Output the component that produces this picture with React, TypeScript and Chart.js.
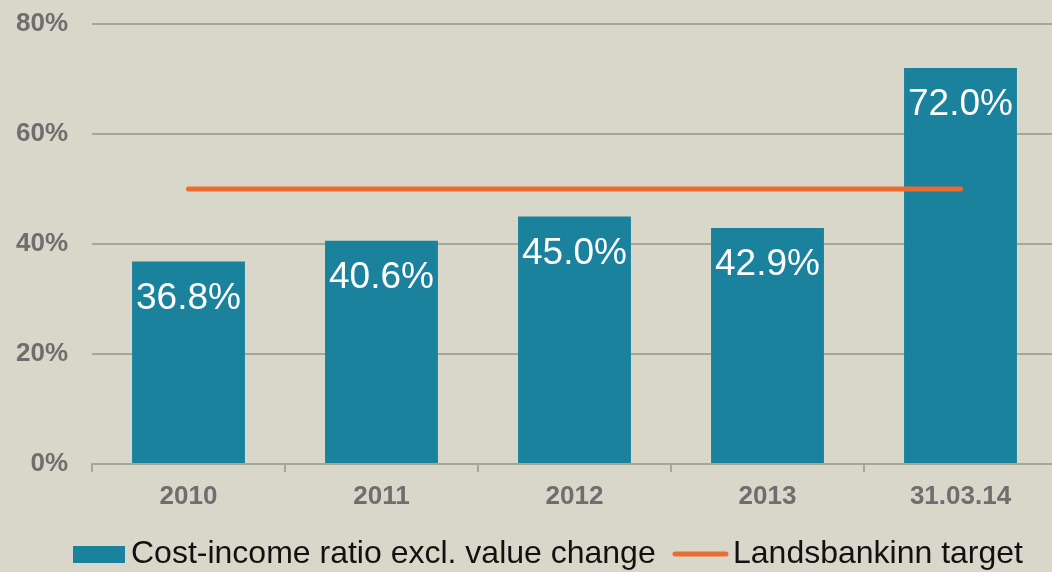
import React, { useEffect, useRef } from "react";
import { Chart, registerables } from "chart.js";

Chart.register(...registerables);

const categories = ["2010", "2011", "2012", "2013", "31.03.14"];
const costIncome = [36.8, 40.6, 45.0, 42.9, 72.0];
const target = [50, 50, 50, 50, 50];
const yTickValues = [0, 20, 40, 60, 80];
const seriesNames = ["Cost-income ratio excl. value change", "Landsbankinn target"];

const FONT = "'Liberation Sans', Arial, sans-serif";
const BG = "#D9D7C9";
const TEAL = "#1B829E";
const ORANGE = "#E86D2F";
const GRID = "#A7A796";
const TICK_TEXT = "#6E6E6E";

const bgPlugin = {
  id: "bg",
  beforeDraw(chart: any) {
    const { ctx, width, height } = chart;
    ctx.save();
    ctx.fillStyle = BG;
    ctx.fillRect(0, 0, width, height);
    ctx.restore();
  },
};

const labelPlugin = {
  id: "barLabels",
  afterDatasetsDraw(chart: any) {
    const { ctx } = chart;
    const meta = chart.getDatasetMeta(1);
    ctx.save();
    ctx.fillStyle = "#FFFFFF";
    ctx.font = `37px ${FONT}`;
    ctx.textAlign = "center";
    ctx.textBaseline = "middle";
    meta.data.forEach((bar: any, i: number) => {
      const v = chart.data.datasets[1].data[i] as number;
      ctx.fillText(v.toFixed(1) + "%", bar.x, bar.y + 37);
    });
    ctx.restore();
  },
};

const legendPlugin = {
  id: "customLegend",
  afterDraw(chart: any) {
    const { ctx } = chart;
    ctx.save();
    const cy = 554;
    ctx.fillStyle = TEAL;
    ctx.fillRect(73, 546, 52, 17);
    ctx.font = `32px ${FONT}`;
    ctx.fillStyle = "#111111";
    ctx.textBaseline = "middle";
    ctx.textAlign = "left";
    ctx.fillText(seriesNames[0], 131, cy);
    ctx.strokeStyle = ORANGE;
    ctx.lineWidth = 5;
    ctx.lineCap = "round";
    ctx.beginPath();
    ctx.moveTo(675, cy);
    ctx.lineTo(726, cy);
    ctx.stroke();
    ctx.fillStyle = "#111111";
    ctx.fillText(seriesNames[1], 733, cy);
    ctx.restore();
  },
};

export default function App() {
  const ref = useRef<HTMLCanvasElement>(null);
  useEffect(() => {
    document.body.style.margin = "0";
    document.body.style.overflow = "hidden";
    document.body.style.background = BG;
    const chart = new Chart(ref.current!, {
      type: "bar",
      data: {
        labels: categories,
        datasets: [
          {
            type: "line",
            label: seriesNames[1],
            data: target,
            borderColor: ORANGE,
            borderWidth: 5,
            borderCapStyle: "round",
            pointRadius: 0,
            fill: false,
            order: 0,
          } as any,
          {
            type: "bar",
            label: seriesNames[0],
            data: costIncome,
            backgroundColor: TEAL,
            categoryPercentage: 1,
            barPercentage: 0.585,
            order: 1,
          },
        ],
      },
      options: {
        responsive: false,
        animation: false,
        layout: { padding: { top: 24, right: 3, bottom: 60, left: 0 } },
        plugins: {
          legend: { display: false },
          tooltip: { enabled: false },
        },
        scales: {
          x: {
            offset: true,
            grid: {
              offset: true,
              drawOnChartArea: false,
              drawTicks: true,
              tickLength: 8,
              color: GRID,
              lineWidth: 2,
            },
            border: { display: true, color: GRID, width: 2 },
            ticks: {
              color: TICK_TEXT,
              font: { family: FONT, size: 26, weight: "bold" },
              padding: 9,
            },
            afterFit(scale: any) {
              scale.height = 48;
              scale.paddingLeft = 0;
              scale.paddingRight = 0;
            },
          },
          y: {
            min: 0,
            max: 80,
            afterBuildTicks(scale: any) {
              scale.ticks = yTickValues.map((v) => ({ value: v }));
            },
            grid: {
              color: (c: any) => (c.tick && c.tick.value === 0 ? "rgba(0,0,0,0)" : GRID),
              lineWidth: 2,
              drawTicks: false,
            },
            border: { display: false },
            ticks: {
              color: TICK_TEXT,
              font: { family: FONT, size: 26, weight: "bold" },
              padding: 24,
              callback: (v: any) => v + "%",
            },
            afterFit(scale: any) {
              scale.width = 92;
              scale.paddingTop = 0;
              scale.paddingBottom = 0;
            },
          },
        },
      },
      plugins: [bgPlugin, labelPlugin, legendPlugin],
    });
    return () => chart.destroy();
  }, []);
  return (
    <div style={{ width: 1052, height: 572, overflow: "hidden", background: BG }}>
      <canvas ref={ref} width={1060} height={572} style={{ display: "block" }} />
    </div>
  );
}
